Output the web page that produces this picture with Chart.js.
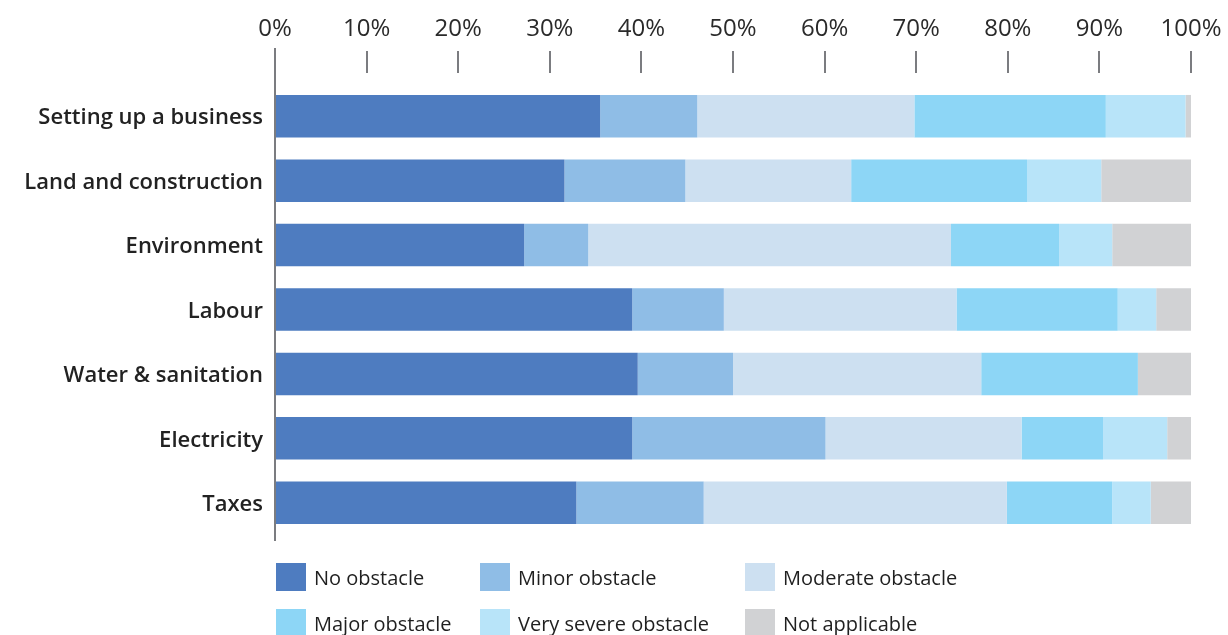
<!DOCTYPE html>
<html>
<head>
<meta charset="utf-8">
<script src="https://cdn.jsdelivr.net/npm/chart.js@4"></script>
<style>
  body { margin: 0; background: #fff; }
  #wrap { position: relative; width: 1228px; height: 635px; overflow: hidden; }
  #chart { position: absolute; left: 0; top: 0; }
  .legend-item { position: absolute; height: 28px; font-family: "Open Sans", "Noto Sans", sans-serif; font-size: 20px; color: #1f1f1f; line-height: 28px; white-space: nowrap; }
  .legend-item span.box { position: absolute; left: 0; top: 0; width: 30px; height: 28px; }
  .legend-item span.txt { position: absolute; left: 38px; top: 1px; }
</style>
</head>
<body>
<div id="wrap">
  <canvas id="chart" width="1228" height="635"></canvas>
  <div id="legend"></div>
</div>
<script>
// categories, top to bottom
var categories = ['Setting up a business', 'Land and construction', 'Environment', 'Labour', 'Water & sanitation', 'Electricity', 'Taxes'];

// share of firms (%) per answer
var noObstacle       = [35.5, 31.6, 27.2, 39.0, 39.6, 39.0, 32.9];
var minorObstacle    = [10.6, 13.2,  7.0, 10.0, 10.4, 21.1, 13.9];
var moderateObstacle = [23.7, 18.1, 39.6, 25.4, 27.1, 21.4, 33.1];
var majorObstacle    = [20.9, 19.2, 11.8, 17.6, 17.1,  8.9, 11.5];
var severeObstacle   = [ 8.7,  8.1,  5.8,  4.2,  0.0,  7.0,  4.2];
var notApplicable    = [ 0.6,  9.8,  8.6,  3.8,  5.8,  2.6,  4.4];

var xTicks = [0, 10, 20, 30, 40, 50, 60, 70, 80, 90, 100];

var seriesNames  = ['No obstacle', 'Minor obstacle', 'Moderate obstacle', 'Major obstacle', 'Very severe obstacle', 'Not applicable'];
var seriesValues = [noObstacle, minorObstacle, moderateObstacle, majorObstacle, severeObstacle, notApplicable];
var seriesColors = ['#4e7cc0', '#8fbde6', '#cde0f1', '#8dd6f6', '#b8e4f9', '#d1d2d4'];

var datasets = [];
for (var i = 0; i < seriesNames.length; i++) {
  datasets.push({
    label: seriesNames[i],
    data: seriesValues[i],
    backgroundColor: seriesColors[i],
    borderWidth: 0,
    barPercentage: 0.66,
    categoryPercentage: 1
  });
}

// short tick marks above the bars and the long 0% axis line
var axisMarks = {
  id: 'axisMarks',
  afterDraw: function(chart) {
    var ctx = chart.ctx;
    var x = chart.scales.x;
    var area = chart.chartArea;
    ctx.save();
    ctx.strokeStyle = '#7b7c80';
    ctx.lineWidth = 2;
    for (var i = 1; i < xTicks.length; i++) {
      var px = Math.round(x.getPixelForValue(xTicks[i]));
      ctx.beginPath();
      ctx.moveTo(px, area.top - 33);
      ctx.lineTo(px, area.top - 11);
      ctx.stroke();
    }
    var p0 = Math.round(x.getPixelForValue(0));
    ctx.beginPath();
    ctx.moveTo(p0, area.top - 36);
    ctx.lineTo(p0, area.bottom + 6);
    ctx.stroke();
    ctx.restore();
  }
};

var chart = new Chart(document.getElementById('chart'), {
  type: 'bar',
  data: { labels: categories, datasets: datasets },
  plugins: [axisMarks],
  options: {
    indexAxis: 'y',
    responsive: false,
    animation: false,
    layout: { padding: { left: 0, right: 37, top: 0, bottom: 100 } },
    plugins: { legend: { display: false }, tooltip: { enabled: false } },
    scales: {
      x: {
        position: 'top',
        stacked: true,
        min: 0,
        max: 100,
        afterBuildTicks: function(scale) {
          scale.ticks = xTicks.map(function(v) { return { value: v }; });
        },
        afterFit: function(scale) {
          scale.height = 84;
          scale.paddingLeft = 0;
          scale.paddingRight = 0;
        },
        grid: { display: true, drawOnChartArea: false, drawTicks: false, color: 'rgba(0,0,0,0)' },
        border: { display: false },
        ticks: {
          padding: 40,
          color: '#2a2a2a',
          font: { family: '"Open Sans", "Noto Sans", sans-serif', size: 24, weight: '400' },
          maxRotation: 0,
          autoSkip: false,
          callback: function(v) { return v + '%'; }
        }
      },
      y: {
        stacked: true,
        afterFit: function(scale) { scale.width = 275; },
        grid: { display: false, drawTicks: false },
        border: { display: false },
        ticks: {
          padding: 12,
          labelOffset: 2,
          color: '#222',
          font: { family: '"Open Sans", "Noto Sans", sans-serif', size: 22, weight: '600' }
        }
      }
    }
  }
});

// legend laid out in three columns, two rows
var legendX = [276, 480, 745];
var legendY = [563, 609];
var legend = document.getElementById('legend');
for (var j = 0; j < seriesNames.length; j++) {
  var item = document.createElement('div');
  item.className = 'legend-item';
  item.style.left = legendX[j % 3] + 'px';
  item.style.top = legendY[Math.floor(j / 3)] + 'px';
  item.innerHTML = "<span class='box' style='background:" + seriesColors[j] + "'></span><span class='txt'>" + seriesNames[j] + "</span>";
  legend.appendChild(item);
}
</script>
</body>
</html>
